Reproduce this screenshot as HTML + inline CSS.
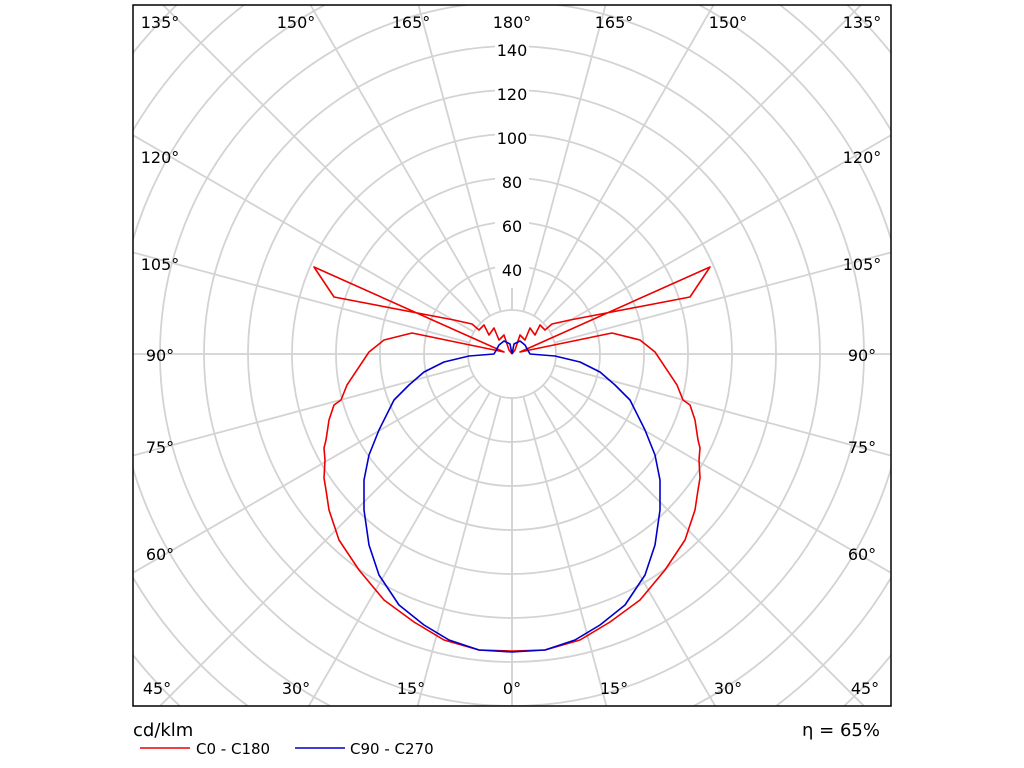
<!DOCTYPE html>
<html><head><meta charset="utf-8"><style>
html,body{margin:0;padding:0;background:#fff;width:1024px;height:768px;overflow:hidden;}
svg{display:block;font-family:"DejaVu Sans","Liberation Sans",sans-serif;}
</style></head><body>
<svg width="1024" height="768" viewBox="0 0 1024 768">
<defs><clipPath id="c"><rect x="133" y="5" width="758" height="701"/></clipPath></defs>
<g clip-path="url(#c)" stroke="#d3d3d3" stroke-width="1.8" fill="none">
<circle cx="512" cy="354" r="44"/><circle cx="512" cy="354" r="88"/><circle cx="512" cy="354" r="132"/>
<circle cx="512" cy="354" r="176"/><circle cx="512" cy="354" r="220"/><circle cx="512" cy="354" r="264"/>
<circle cx="512" cy="354" r="308"/><circle cx="512" cy="354" r="352"/><circle cx="512" cy="354" r="396"/>
<circle cx="512" cy="354" r="440"/><circle cx="512" cy="354" r="484"/><circle cx="512" cy="354" r="528"/>
<g id="sp">
<line x1="512" y1="398" x2="512" y2="1000"/>
<line x1="523.4" y1="396.5" x2="667" y2="932"/>
<line x1="534" y1="392.1" x2="812" y2="873.6"/>
<line x1="543.1" y1="385.1" x2="936.3" y2="778.3"/>
<line x1="550.1" y1="376" x2="1031.6" y2="654"/>
<line x1="554.5" y1="365.4" x2="1090" y2="508.9"/>
<line x1="556" y1="354" x2="1100" y2="354"/>
<line x1="554.5" y1="342.6" x2="1090" y2="199.1"/>
<line x1="550.1" y1="332" x2="1031.6" y2="54"/>
<line x1="543.1" y1="322.9" x2="936.3" y2="-70.3"/>
<line x1="534" y1="315.9" x2="812" y2="-165.6"/>
<line x1="523.4" y1="311.5" x2="667" y2="-224"/>
<line x1="512" y1="310" x2="512" y2="60"/>
</g>
<use href="#sp" transform="translate(1024,0) scale(-1,1)"/>
</g>
<rect x="133" y="5" width="758" height="701" fill="none" stroke="#000" stroke-width="1.5"/>
<g font-size="16" fill="#000" text-anchor="middle">
<rect x="495" y="38" width="34" height="250" fill="#fff"/>
<text x="512" y="56">140</text><text x="512" y="100">120</text><text x="512" y="144">100</text>
<text x="512" y="188">80</text><text x="512" y="232">60</text><text x="512" y="276">40</text>
<text x="160" y="28">135°</text><text x="296" y="28">150°</text><text x="411" y="28">165°</text><text x="512" y="28">180°</text>
<text x="614" y="28">165°</text><text x="728" y="28">150°</text><text x="862" y="28">135°</text>
<text x="160" y="163">120°</text><text x="160" y="270">105°</text><text x="160" y="361">90°</text><text x="160" y="453">75°</text><text x="160" y="560">60°</text>
<text x="862" y="163">120°</text><text x="862" y="270">105°</text><text x="862" y="361">90°</text><text x="862" y="453">75°</text><text x="862" y="560">60°</text>
<text x="157" y="694">45°</text><text x="296" y="694">30°</text><text x="411" y="694">15°</text><text x="512" y="694">0°</text>
<text x="614" y="694">15°</text><text x="728" y="694">30°</text><text x="865" y="694">45°</text>
</g>
<g fill="none" stroke-width="1.6" stroke-linejoin="round">
<path id="r" stroke="#e00" d="M512,651 L545,650 L580,640 L610,622 L640,600 L665,570 L685,540 L695,510 L698,490 L700,478 L699,460 L700,448 L698,440 L695,420 L690,405 L683,400 L677,385 L655,352 L640,340 L612,333 L520,352 L710,267 L690,297 L570,320 L552,324 L545,330 L540,325 L535,335 L530,328 L525,340 L520,335 L515,350 L512,354"/>
<use href="#r" transform="translate(1024,0) scale(-1,1)"/>
<path id="b" stroke="#00c" d="M512,652 L545,650 L575,640 L600,625 L625,605 L645,575 L655,545 L660,510 L660,480 L655,455 L645,430 L630,400 L615,385 L600,372 L580,362 L555,356 L530,354 L525,345 L520,341 L514,344 L512,354"/>
<use href="#b" transform="translate(1024,0) scale(-1,1)"/>
</g>
<text x="133" y="736" font-size="18">cd/klm</text>
<text x="880" y="736" font-size="18" text-anchor="end">η = 65%</text>
<line x1="140" y1="748" x2="190" y2="748" stroke="#e00" stroke-width="1.5"/>
<text x="196" y="754" font-size="15">C0 - C180</text>
<line x1="295" y1="748" x2="345" y2="748" stroke="#00c" stroke-width="1.5"/>
<text x="350" y="754" font-size="15">C90 - C270</text>
</svg>
</body></html>
